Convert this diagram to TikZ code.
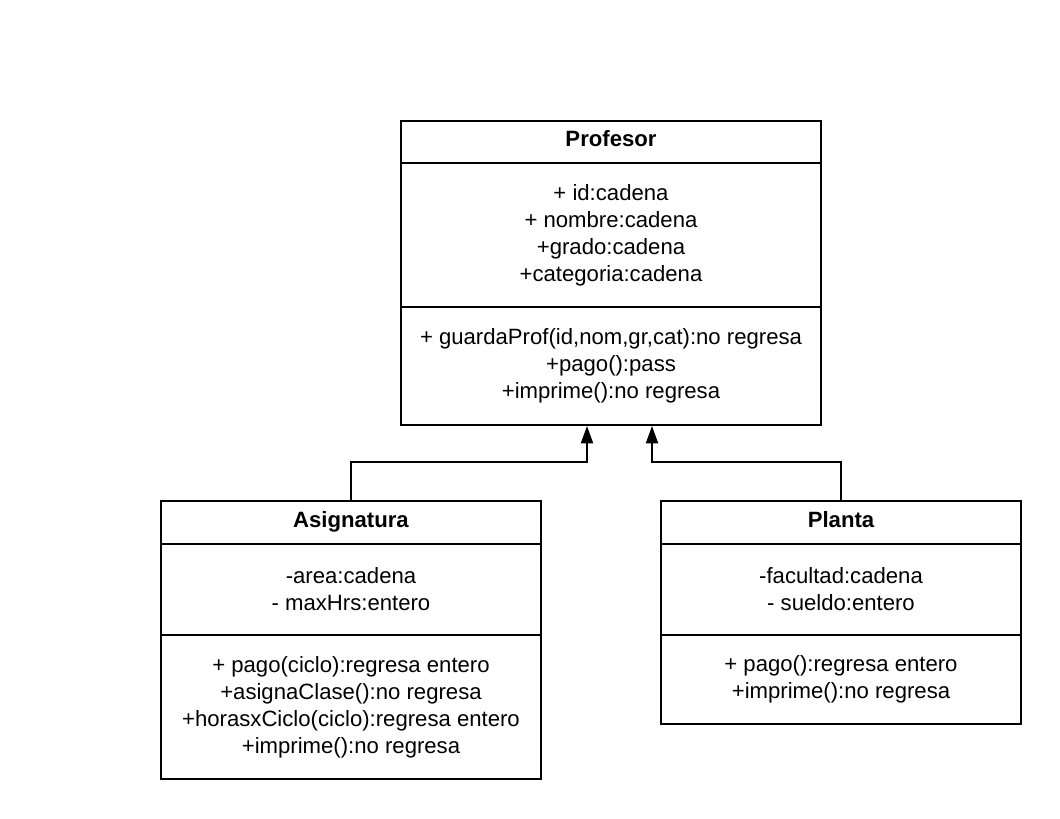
\documentclass[tikz,border=0pt]{standalone}
\usepackage{fontspec}
\setmainfont{Liberation Sans}
\usetikzlibrary{arrows.meta}
\begin{document}
\begin{tikzpicture}[x=0.75pt,y=-0.75pt,
  comp/.style n args={2}{draw=black,line width=1.5pt,rectangle,anchor=north west,inner sep=0pt,
    minimum width=#1*0.75pt,minimum height=#2*0.75pt,align=center,
    font=\fontsize{16.6}{20.25}\selectfont},
  hdr/.style={font=\fontsize{16.6}{20.25}\selectfont\bfseries,text height=12pt,text depth=4.6pt},
  inh/.style={draw=black,line width=1.5pt,-{Triangle[length=13pt,width=9pt]}}]
\useasboundingbox (0,0) rectangle (1060,818);
% Profesor
\node[comp={420}{42},hdr] (pH) at (400,120) {Profesor};
\node[comp={420}{144}] (pA) at (400,162) {+ id:cadena\\+ nombre:cadena\\+grado:cadena\\+categoria:cadena};
\node[comp={420}{118}] (pM) at (400,306) {+ guardaProf(id,nom,gr,cat):no regresa\\+pago():pass\\+imprime():no regresa};
% Asignatura
\node[comp={380}{43},hdr] (aH) at (160,500) {Asignatura};
\node[comp={380}{91}] (aA) at (160,543) {-area:cadena\\- maxHrs:entero};
\node[comp={380}{144}] (aM) at (160,634) {+ pago(ciclo):regresa entero\\+asignaClase():no regresa\\+horasxCiclo(ciclo):regresa entero\\+imprime():no regresa};
% Planta
\node[comp={360}{43},hdr] (lH) at (660,500) {Planta};
\node[comp={360}{91}] (lA) at (660,543) {-facultad:cadena\\- sueldo:entero};
\node[comp={360}{89}] (lM) at (660,634) {+ pago():regresa entero\\+imprime():no regresa};
% connectors
\coordinate (j1) at (587,462);
\coordinate (j2) at (652,462);
\draw[inh] (aH.north) |- (j1) -- (pM.south -| j1);
\draw[inh] (lH.north) |- (j2) -- (pM.south -| j2);
\end{tikzpicture}
\end{document}
